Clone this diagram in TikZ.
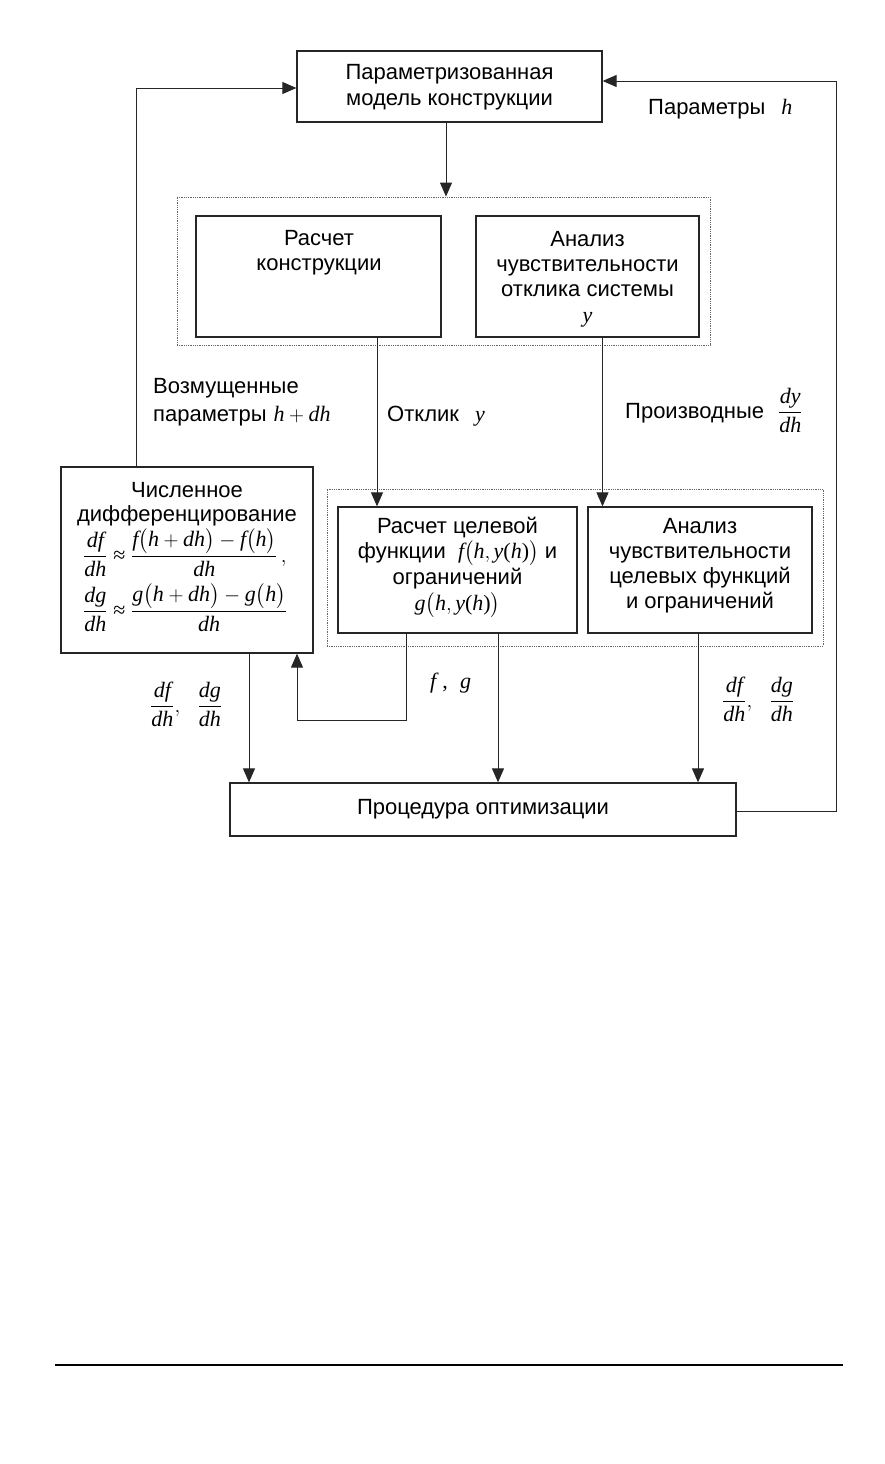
\documentclass[tikz,border=0pt]{standalone}
\usepackage{fontspec}
\usepackage{amsmath}
\setmainfont{Liberation Sans}
\newfontfamily\tmr{Liberation Serif}
\usetikzlibrary{arrows.meta,calc}
\newcommand\ts{\fontsize{22pt}{25pt}\selectfont}
\newcommand\vi[1]{\text{\fontsize{22pt}{25pt}\selectfont\tmr\itshape #1}}
\newcommand\vr[1]{\text{\fontsize{22pt}{25pt}\selectfont\tmr #1}}
\newcommand\apx{\mathrel{\vr{≈}}}
\begin{document}
\begin{tikzpicture}[x=1pt,y=-1pt,
  box/.style={draw=black!85,line width=1.3pt,inner sep=0pt},
  dotbox/.style={draw=black!60,line width=0.9pt,dash pattern=on 0.9pt off 0.9pt,inner sep=0pt},
  txt/.style={inner sep=0pt,font=\ts},
  conn/.style={draw=black!85,line width=1pt},
  arr/.style={conn,-{Triangle[width=12pt,length=14pt]}},
]
\useasboundingbox (0,0) rectangle (884,1464);
\fill[white] (0,0) rectangle (884,1464);

% dotted groups
\node[dotbox,minimum width=533pt,minimum height=148pt] (dot1) at (443.5,271) {};
\node[dotbox,minimum width=496pt,minimum height=157pt] (dot2) at (575,567.5) {};

% boxes
\node[box,minimum width=305pt,minimum height=71pt] (top) at (449.5,86.5) {};
\node[box,minimum width=245pt,minimum height=121pt] (rk) at (318.5,276.5) {};
\node[box,minimum width=223pt,minimum height=121pt] (ao) at (587.5,276.5) {};
\node[box,minimum width=252pt,minimum height=186pt] (num) at (187,560) {};
\node[box,minimum width=239pt,minimum height=126pt] (rc) at (457.5,570) {};
\node[box,minimum width=224pt,minimum height=126pt] (ac) at (700,570) {};
\node[box,minimum width=506pt,minimum height=53pt,font=\ts] (proc) at (483,809.5) {Процедура оптимизации};

% texts in boxes
\node[txt,anchor=base] (top1) at (449.5,79) {Параметризованная};
\node[txt,anchor=base] (top2) at (449.5,105) {модель конструкции};

\node[txt,anchor=base] (rk1) at (319,245) {Расчет};
\node[txt,anchor=base] (rk2) at (319,270) {конструкции};

\node[txt,anchor=base] (ao1) at (587.5,246) {Анализ};
\node[txt,anchor=base] (ao2) at (587.5,271) {чувствительности};
\node[txt,anchor=base] (ao3) at (587.5,296) {отклика системы};
\node[txt,anchor=base] (ao4) at (587.5,322) {$\vi{y}$};

\node[txt,anchor=base] (num1) at (187,497) {Численное};
\node[txt,anchor=base] (num2) at (187,521) {дифференцирование};
\node[txt,anchor=base west] (num3) at (83,562)
  {$\dfrac{\vi{df}}{\vi{dh}}\apx\dfrac{\vi{f}\bigl(\vi{h}+\vi{dh}\bigr)-\vi{f}\bigl(\vi{h}\bigr)}{\vi{dh}}\,,$};
\node[txt,anchor=base west] (num4) at (83,617)
  {$\dfrac{\vi{dg}}{\vi{dh}}\apx\dfrac{\vi{g}\bigl(\vi{h}+\vi{dh}\bigr)-\vi{g}\bigl(\vi{h}\bigr)}{\vi{dh}}$};

\node[txt,anchor=base] (rc1) at (457.5,533) {Расчет целевой};
\node[txt,anchor=base] (rc2) at (457.5,558) {функции\ \ $\vi{f}\bigl(\vi{h},\vi{y}\vr{(}\vi{h}\vr{)}\bigr)$ и};
\node[txt,anchor=base] (rc3) at (457.5,584) {ограничений};
\node[txt,anchor=base] (rc4) at (457.5,610) {$\vi{g}\bigl(\vi{h},\vi{y}\vr{(}\vi{h}\vr{)}\bigr)$};

\node[txt,anchor=base] (ac1) at (700,533) {Анализ};
\node[txt,anchor=base] (ac2) at (700,558) {чувствительности};
\node[txt,anchor=base] (ac3) at (700,583) {целевых функций};
\node[txt,anchor=base] (ac4) at (700,608) {и ограничений};

% labels
\node[txt,anchor=base west] (lab1) at (648,114) {Параметры\hspace{16pt}$\vi{h}$};
\node[txt,anchor=base west] (lab2a) at (153,393) {Возмущенные};
\node[txt,anchor=base west] (lab2b) at (153,421) {параметры\hspace{7pt}$\vi{h}+\vi{dh}$};
\node[txt,anchor=base west] (lab3) at (387,421) {Отклик\hspace{16pt}$\vi{y}$};
\node[txt,anchor=base west] (lab4) at (625,418) {Производные\hspace{14pt}$\dfrac{\vi{dy}}{\vi{dh}}$};
\node[txt,anchor=base west] (lab5) at (150,712) {$\dfrac{\vi{df}}{\vi{dh}},\hspace{14pt}\dfrac{\vi{dg}}{\vi{dh}}$};
\node[txt,anchor=base west] (lab6) at (722,707) {$\dfrac{\vi{df}}{\vi{dh}},\hspace{14pt}\dfrac{\vi{dg}}{\vi{dh}}$};
\node[txt,anchor=base west] (lab7) at (430,688) {$\vi{f}\ \vr{,}\ \ \vi{g}$};

% connectors
\coordinate (L) at (136,0);
\coordinate (R) at (836,0);
\coordinate (fb) at (0,720);
\draw[arr] ([xshift=-3.5pt]top.south) -- ([xshift=-3.5pt]top.south |- dot1.north);
\draw[arr] (num.north -| L) |- ([yshift=-1.5pt]top.west);
\draw[arr] ([yshift=-1.5pt]proc.east) -- ([yshift=-1.5pt]proc.east -| R) |- ([yshift=5.5pt]top.east);
\draw[arr] ([xshift=58.5pt]rk.south) -- ([xshift=58.5pt]rk.south |- rc.north);
\draw[arr] ([xshift=15pt]ao.south) -- ([xshift=15pt]ao.south |- ac.north);
\draw[arr] ([xshift=62pt]num.south) -- ([xshift=62pt]num.south |- proc.north);
\draw[arr] ([xshift=40.5pt]rc.south) -- ([xshift=40.5pt]rc.south |- proc.north);
\draw[arr] ([xshift=-2pt]ac.south) -- ([xshift=-2pt]ac.south |- proc.north);
\draw[arr] ([xshift=-51.5pt]rc.south) |- ([xshift=110pt]num.south |- fb) -- ([xshift=110pt]num.south);

% page rule
\draw[line width=1.5pt] (55,1365) -- (843,1365);
\end{tikzpicture}
\end{document}
